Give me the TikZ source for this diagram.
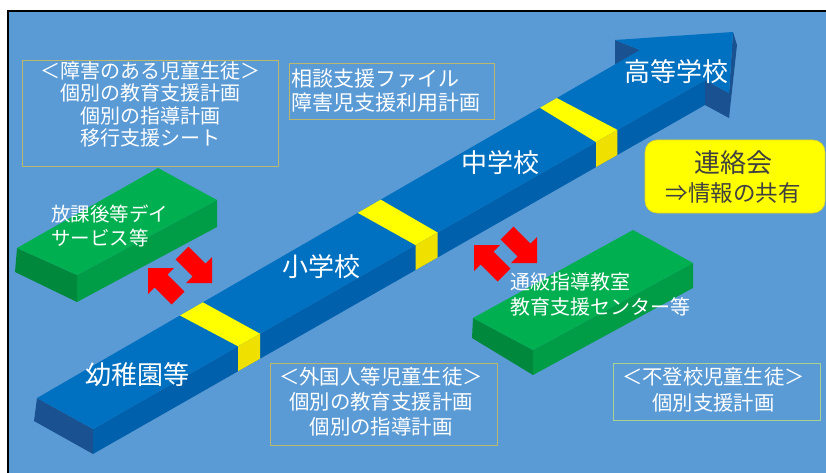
\documentclass[tikz,border=0pt]{standalone}
\usepackage{fontspec}
\newfontfamily\jp{Noto Sans CJK JP}
\usetikzlibrary{calc}
\definecolor{bg}{HTML}{5B9BD5}
\definecolor{bartop}{HTML}{0070C0}
\definecolor{barside}{HTML}{0060AC}
\definecolor{barend}{HTML}{1A5291}
\definecolor{bandtop}{HTML}{FFFF00}
\definecolor{bandside}{HTML}{EFE000}
\definecolor{grtop}{HTML}{00B050}
\definecolor{grside}{HTML}{009C46}
\definecolor{grend}{HTML}{00883C}
\definecolor{boxline}{HTML}{BDB76B}
\definecolor{boxlinegr}{HTML}{A9D18E}
\definecolor{redarr}{HTML}{FF0000}
\definecolor{txtdark}{HTML}{404040}
\tikzset{
  barlabel/.style={text=white,font=\jp\fontsize{26}{30}\selectfont,inner sep=0pt},
  smalltxt/.style={text=white,inner sep=0pt},
  infobox/.style={draw=boxline,line width=0.8pt,inner sep=0pt},
  arrdr/.pic={\fill[redarr] (0,0) -- (0,-26) -- (-6.6,-19.4) -- (-23.6,-36.4) -- (-36.4,-23.6) -- (-19.4,-6.6) -- (-26,0) -- cycle;},
  arrul/.pic={\fill[redarr] (0,0) -- (0,26) -- (6.6,19.4) -- (23.6,36.4) -- (36.4,23.6) -- (19.4,6.6) -- (26,0) -- cycle;},
}
\begin{document}
\begin{tikzpicture}[x=1pt,y=-1pt]
\useasboundingbox (0,0) rectangle (826,473);
\fill[white] (0,0) rectangle (826,473);
\fill[bg] (8,11) rectangle (826,473);
\draw[black,line width=1.6pt] (8,473) -- (8,11) -- (826,11);

% ---------- main bar ----------
\coordinate (P0) at (37,398);
\coordinate (P1) at (93,429);
\coordinate (A) at (640,50);
\coordinate (B) at (615,40);
\coordinate (C) at (733,32);
\coordinate (D) at (729,93);
\coordinate (E) at (705,80);
\fill[barend] (A) -- (B) -- ($(B)+(0,25)$) -- ($(A)+(0,25)$) -- cycle;
\fill[barend] (C) -- (D) -- ($(D)+(0,25)$) -- (737,45) -- cycle;
\fill[barend] (E) -- (D) -- ($(D)+(0,25)$) -- ($(E)+(0,25)$) -- cycle;
\fill[barside] (P1) -- (E) -- ($(E)+(0,25)$) -- ($(P1)+(0,25)$) -- cycle;
\fill[barend] (P0) -- (P1) -- ($(P1)+(0,25)$) -- (34,421) -- cycle;
\fill[bartop] (P0) -- (A) -- (B) -- (C) -- (D) -- (E) -- (P1) -- cycle;
\foreach \sa/\sb/\la/\lb in {0.237/0.275/0.237/0.273, 0.532/0.570/0.527/0.563, 0.834/0.862/0.822/0.857}{
  \fill[bandtop] ($(P0)!\sa!(A)$) -- ($(P0)!\sb!(A)$) -- ($(P1)!\lb!(E)$) -- ($(P1)!\la!(E)$) -- cycle;
  \fill[bandside] ($(P1)!\la!(E)$) -- ($(P1)!\lb!(E)$) -- ($(P1)!\lb!(E)+(0,25)$) -- ($(P1)!\la!(E)+(0,25)$) -- cycle;
}
\node[barlabel] (kinder) at (137,375) {幼稚園等};
\node[barlabel] (elem) at (321,267) {小学校};
\node[barlabel] (junior) at (500,163) {中学校};
\node[barlabel] (high) at (676,72) {高等学校};

% ---------- green slabs ----------
\coordinate (Q0) at (17,248);
\coordinate (Qa) at (158,168);
\coordinate (Qb) at (217,200);
\coordinate (Qc) at (77,275);
\fill[grside] (Qc) -- (Qb) -- ($(Qb)+(0,27)$) -- ($(Qc)+(0,27)$) -- cycle;
\fill[grend] (Q0) -- (Qc) -- ($(Qc)+(0,27)$) -- ($(Q0)+(-2,24)$) -- cycle;
\fill[grtop] (Q0) -- (Qa) -- (Qb) -- (Qc) -- cycle;
\node[smalltxt,font=\jp\fontsize{19.5}{24}\selectfont,align=left,anchor=west] (dayservice) at (51,226) {放課後等デイ\\サービス等};

\coordinate (R0) at (473,318);
\coordinate (Ra) at (633,230);
\coordinate (Rb) at (693,263);
\coordinate (Rc) at (533,350);
\fill[grside] (Rc) -- (Rb) -- ($(Rb)+(0,25)$) -- ($(Rc)+(0,25)$) -- cycle;
\fill[grend] (R0) -- (Rc) -- ($(Rc)+(0,25)$) -- ($(R0)+(-1,20)$) -- cycle;
\fill[grtop] (R0) -- (Ra) -- (Rb) -- (Rc) -- cycle;
\node[smalltxt,font=\jp\fontsize{20}{25}\selectfont,align=left,anchor=west] (tsukyu) at (510,294.5) {通級指導教室\\教育支援センター等};

% ---------- red arrows ----------
\pic at (148,268) {arrul};
\pic at (212,283) {arrdr};
\pic at (474,245) {arrul};
\pic at (537,263) {arrdr};

% ---------- info boxes ----------
\node[infobox,minimum width=256pt,minimum height=106pt] (box1) at (150,113) {};
\node[smalltxt,font=\jp\fontsize{20}{22.5}\selectfont,align=center] (box1t) at (150,104.5) {＜障害のある児童生徒＞\\個別の教育支援計画\\個別の指導計画\\移行支援シート};

\node[infobox,minimum width=205pt,minimum height=56pt] (box2) at (391.5,91.5) {};
\node[smalltxt,font=\jp\fontsize{21}{23.5}\selectfont,align=left,anchor=west] (box2t) at (291,90.5) {相談支援ファイル\\障害児支援利用計画};

\node[infobox,minimum width=227pt,minimum height=82pt] (box3) at (383.5,404) {};
\node[smalltxt,font=\jp\fontsize{20.4}{25}\selectfont,align=center] (box3t) at (381,402) {＜外国人等児童生徒＞\\個別の教育支援計画\\個別の指導計画};

\node[infobox,draw=boxlinegr,minimum width=207pt,minimum height=57pt] (box4) at (716.5,391.5) {};
\node[smalltxt,font=\jp\fontsize{20.3}{26}\selectfont,align=center] (box4t) at (713.5,390) {＜不登校児童生徒＞\\個別支援計画};

% ---------- yellow box ----------
\node[draw=yellow!85!black,line width=0.6pt,fill=bandtop,rounded corners=12pt,minimum width=180pt,minimum height=73pt] (meet) at (735,176.5) {};
\node[text=txtdark,font=\jp\fontsize{26}{30}\selectfont,inner sep=0pt] (meett) at (733,163) {連絡会};
\node[text=txtdark,font=\jp\fontsize{22.5}{26}\selectfont,inner sep=0pt] (sharet) at (733,193) {⇒情報の共有};
\end{tikzpicture}
\end{document}
